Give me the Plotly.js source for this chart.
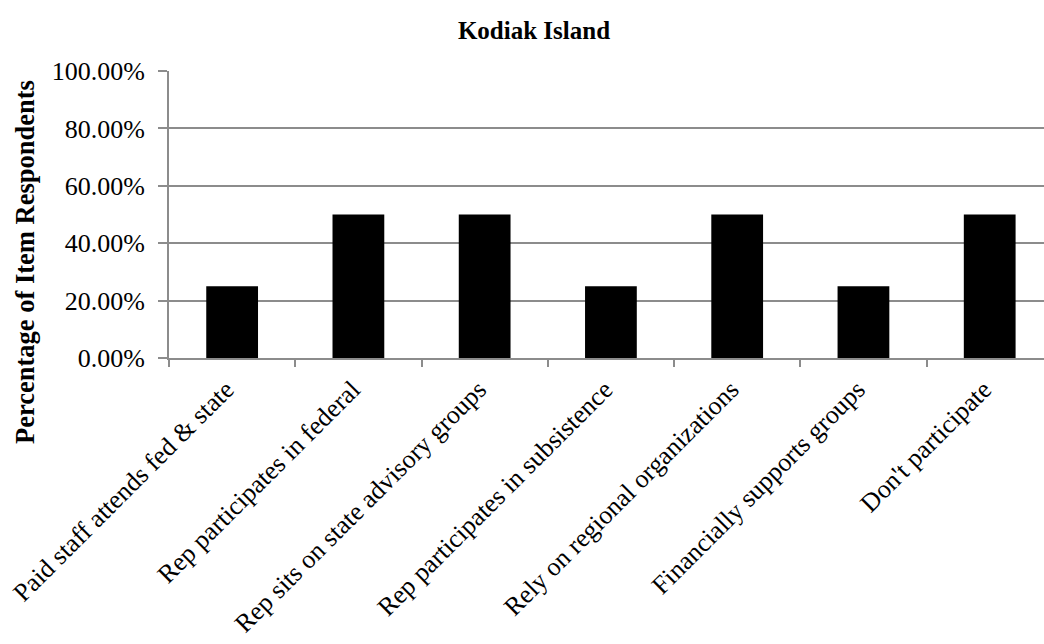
<!DOCTYPE html>
<html>
<head>
<meta charset="utf-8">
<script src="https://cdn.plot.ly/plotly-3.0.1.min.js"></script>
<style>html,body{margin:0;padding:0;background:#fff;}#chart{width:1044px;height:644px;}</style>
</head>
<body>
<div id="chart"></div>
<script>
const categories = [
  "Paid staff attends fed & state",
  "Rep participates in federal",
  "Rep sits on state advisory groups",
  "Rep participates in subsistence",
  "Rely on regional organizations",
  "Financially supports groups",
  "Don't participate"
];
const values = [0.25, 0.50, 0.50, 0.25, 0.50, 0.25, 0.50];
const yTicks = [0, 0.2, 0.4, 0.6, 0.8, 1.0];
const yTitle = "Percentage of Item Respondents";

const font = "'Liberation Serif', 'Times New Roman', serif";
const gray = "#8c8c8c";

const data = [{
  type: "bar",
  x: categories,
  y: values,
  width: 0.41,
  marker: {color: "#000000", line: {width: 0}},
  hoverinfo: "x+y"
}];

const layout = {
  width: 1044, height: 644,
  margin: {l: 169, r: 0, t: 71, b: 286, pad: 0},
  paper_bgcolor: "#ffffff", plot_bgcolor: "#ffffff",
  showlegend: false,
  font: {family: font, size: 26, color: "#000"},
  title: {text: "<b>Kodiak Island</b>", x: 534/1044, xanchor: "center", xref: "container",
          y: 1 - 30/644, yanchor: "middle", yref: "container",
          font: {family: font, size: 25, color: "#000"}},
  xaxis: {
    type: "category",
    range: [-0.5, 6.43],
    showline: true, linecolor: gray, linewidth: 2,
    ticks: "outside", tickson: "boundaries", ticklen: 7, tickcolor: gray, tickwidth: 2,
    tickangle: -45, showgrid: false, automargin: false,
    ticklabelshift: -6, ticklabelstandoff: 4,
    tickfont: {family: font, size: 26, color: "#000"}
  },
  yaxis: {
    range: [0, 1], tickvals: yTicks, tickformat: ".2%",
    showline: true, linecolor: gray, linewidth: 2,
    ticks: "outside", ticklen: 9, tickcolor: gray, tickwidth: 2,
    ticklabelstandoff: 8,
    showgrid: true, gridcolor: gray, gridwidth: 2, zeroline: false,
    automargin: false,
    tickfont: {family: font, size: 26, color: "#000"}
  },
  annotations: [{
    text: "<b>" + yTitle + "</b>",
    xref: "paper", yref: "paper",
    x: (25 - 169) / 875, y: (358 - 262) / 287,
    xanchor: "center", yanchor: "middle",
    textangle: -90, showarrow: false,
    font: {family: font, size: 26.5, color: "#000"}
  }],
  bargap: 0.59
};

Plotly.newPlot("chart", data, layout, {displayModeBar: false, staticPlot: true});
</script>
</body>
</html>
